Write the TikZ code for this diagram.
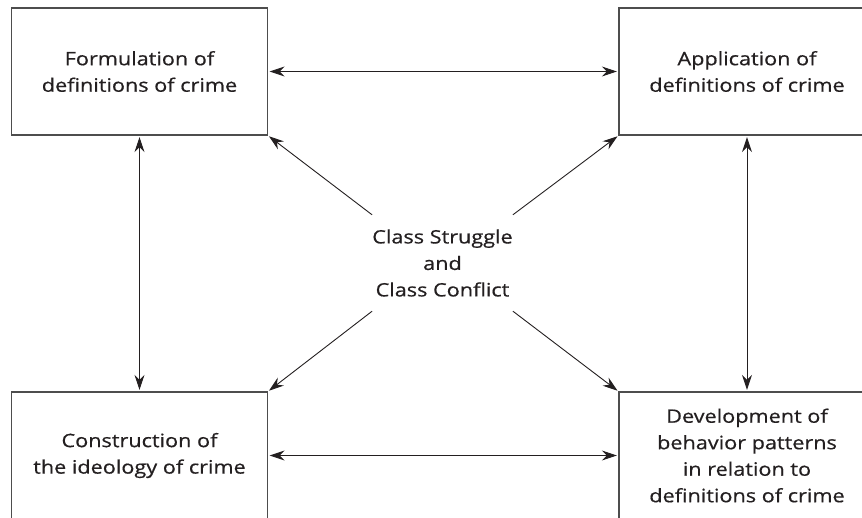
\documentclass[tikz,border=0pt]{standalone}
\usepackage{fontspec}
\setmainfont{Open Sans}[FakeStretch=1.17,FakeBold=0.6]
\usetikzlibrary{arrows.meta}
\definecolor{ink}{HTML}{231F20}
\definecolor{frame}{HTML}{4D4D4D}
\tikzset{
  lbl/.style={text=ink, font=\fontsize{18.5}{26.5}\selectfont, align=center},
  box/.style={lbl, draw=frame, line width=1.3pt, rectangle, minimum width=256pt, minimum height=127pt, inner sep=0pt},
  tip/.tip={Stealth[length=15pt,width=10pt,inset=5pt]},
  link/.style={draw=ink, line width=0.9pt, tip-tip, shorten <=1.5pt, shorten >=1.5pt},
  push/.style={draw=ink, line width=0.9pt, -tip, shorten >=1pt},
}
\begin{document}
\begin{tikzpicture}[x=1pt,y=-1pt]
\useasboundingbox (0,0) rectangle (862,517);
\clip (0,0) rectangle (862,517);
\node[box] (tl) at (139.5,71.5) {Formulation of\\definitions of crime};
\node[box] (tr) at (747,71.5) {Application of\\definitions of crime};
\node[box] (bl) at (139.5,455.5) {Construction of\\the ideology of crime};
\node[box] (br) at (747,455.5) {Development of\\behavior patterns\\in relation to\\definitions of crime};
\node[lbl, minimum width=131pt, minimum height=96pt, inner sep=0pt] (c) at (442.5,263) {Class Struggle\\and\\Class Conflict};
\draw[link] (tl.east) -- (tr.west);
\draw[link] (bl.east) -- (br.west);
\draw[link] (tl.south) -- (bl.north);
\draw[link] (tr.south) -- (br.north);
\draw[push] (c.north west) -- (tl.south east);
\draw[push] (c.north east) -- (tr.south west);
\draw[push] (c.south west) -- (bl.north east);
\draw[push] (c.south east) -- (br.north west);
\end{tikzpicture}
\end{document}
